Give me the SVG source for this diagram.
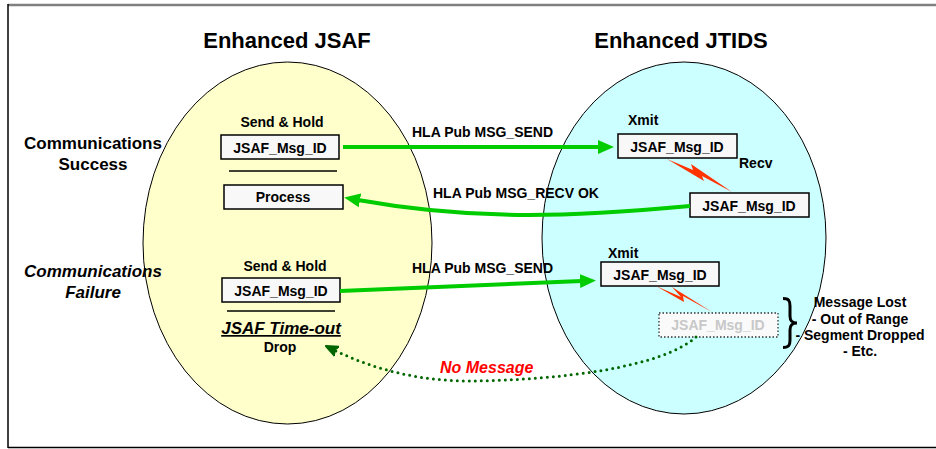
<svg xmlns="http://www.w3.org/2000/svg" width="936" height="449" viewBox="0 0 936 449">
<defs>
<style>
text{font-family:"Liberation Sans",Arial,sans-serif;font-weight:bold;fill:#000}
.t{font-size:22px}
.h{font-size:17px}
.s{font-size:14px}
.c{text-anchor:middle}
.i{font-style:italic}
.box{fill:#f8f8f8;stroke:#000;stroke-width:1.5}
.ghost{fill:#fafafa;stroke:#333;stroke-width:1.3;stroke-dasharray:1.5 2}
.arr{fill:none;stroke:#00cc00;stroke-width:4}
.bolt{fill:#ff3300}
</style>
<marker id="ah" markerUnits="userSpaceOnUse" markerWidth="18" markerHeight="16" viewBox="0 0 18 16" refX="2" refY="8" orient="auto">
<path d="M0,1 L16,8 L0,15 z" fill="#00cc00"/>
</marker>
<marker id="dh" markerUnits="userSpaceOnUse" markerWidth="14" markerHeight="14" viewBox="0 0 14 14" refX="3" refY="7" orient="auto">
<path d="M0,2 L12,7 L0,12 L3,7 z" fill="#006600" stroke="#006600" stroke-width="2" stroke-linejoin="round"/>
</marker>
</defs>
<rect width="936" height="449" fill="#fff"/>
<g id="frame">
<line x1="8" y1="5" x2="936" y2="5" stroke="#808080" stroke-width="2.5"/>
<line x1="8" y1="4" x2="8" y2="448" stroke="#000" stroke-width="1.5"/>
<line x1="8" y1="447.5" x2="936" y2="447.5" stroke="#000" stroke-width="1.5"/>
</g>
<g id="jsaf">
<ellipse cx="287.5" cy="243" rx="144.5" ry="181" fill="#ffffcc" stroke="#000" stroke-width="1"/>
<text class="t c" x="287" y="48">Enhanced JSAF</text>
</g>
<g id="jtids">
<ellipse cx="684" cy="238" rx="142" ry="176" fill="#ccffff" stroke="#000" stroke-width="1"/>
<text class="t c" x="681" y="48">Enhanced JTIDS</text>
</g>
<g id="labels-left">
<text class="h c" x="93" y="149">Communications</text>
<text class="h c" x="93" y="170">Success</text>
<text class="h c i" x="93" y="277">Communications</text>
<text class="h c i" x="93" y="298">Failure</text>
</g>
<g id="jsaf-send1">
<text class="s c" x="282" y="127">Send &amp; Hold</text>
<rect class="box" x="221" y="135" width="118" height="24"/>
<text class="s c" x="280" y="153">JSAF_Msg_ID</text>
<line x1="229" y1="171" x2="337" y2="171" stroke="#000" stroke-width="1.5"/>
</g>
<g id="jsaf-process">
<rect class="box" x="224" y="185" width="119" height="24"/>
<text class="s c" x="283" y="202">Process</text>
</g>
<g id="jsaf-send2">
<text class="s c" x="285" y="271">Send &amp; Hold</text>
<rect class="box" x="222" y="278" width="118" height="24"/>
<text class="s c" x="281" y="296">JSAF_Msg_ID</text>
<line x1="227" y1="311" x2="335" y2="311" stroke="#000" stroke-width="1.5"/>
</g>
<g id="jsaf-timeout">
<text class="h c i" x="281" y="334" text-decoration="underline">JSAF Time-out</text>
<text class="s c" x="280" y="352">Drop</text>
</g>
<g id="jtids-xmit1">
<text class="s" x="628" y="125">Xmit</text>
<rect class="box" x="618" y="134" width="119" height="24"/>
<text class="s c" x="677" y="152">JSAF_Msg_ID</text>
</g>
<g id="jtids-recv">
<text class="s" x="739" y="168">Recv</text>
<rect class="box" x="690" y="193" width="119" height="24"/>
<text class="s c" x="749" y="211">JSAF_Msg_ID</text>
</g>
<g id="jtids-xmit2">
<text class="s" x="608" y="258">Xmit</text>
<rect class="box" x="601" y="262" width="118" height="24"/>
<text class="s c" x="660" y="280">JSAF_Msg_ID</text>
</g>
<g id="jtids-lost">
<rect class="ghost" x="659" y="313" width="119" height="24"/>
<text class="s c" x="718" y="330" style="fill:#c8c8c8">JSAF_Msg_ID</text>
</g>
<g id="lost-note">
<path d="M783,298.5 C789,298.5 790,301 790,306 L790,316 C790,321 792,323 797,323 C792,323 790,325 790,330 L790,340 C790,345 789,347.5 783,347.5" fill="none" stroke="#000" stroke-width="3"/>
<text class="s c" x="860" y="307">Message Lost</text>
<text class="s c" x="860" y="324">- Out of Range</text>
<text class="s c" x="860" y="340">- Segment Dropped</text>
<text class="s c" x="860" y="356">- Etc.</text>
</g>
<g id="connectors">
<line class="arr" x1="343" y1="147" x2="600" y2="147" marker-end="url(#ah)"/>
<text class="s" x="412" y="137">HLA Pub MSG_SEND</text>
<path class="arr" d="M690,206 C580,216 480,222 358,200" marker-end="url(#ah)"/>
<text class="s" x="433" y="198">HLA Pub MSG_RECV OK</text>
<line class="arr" x1="340" y1="291" x2="582" y2="281" marker-end="url(#ah)"/>
<text class="s" x="412" y="273">HLA Pub MSG_SEND</text>
<polygon class="bolt" points="667,159 693,170 691,164 732,192 702,176 704,181"/>
<polygon class="bolt" points="656,286 681,297 672,287 712,312 683,296 684,302"/>
<path d="M696,337 C660,368 560,380 470,381 C420,381 375,370 334,350" fill="none" stroke="#006600" stroke-width="3" stroke-linecap="round" stroke-dasharray="0 6" marker-end="url(#dh)"/>
<text class="i" x="440" y="373" style="font-size:16px;fill:#ff0000">No Message</text>
</g>
</svg>
